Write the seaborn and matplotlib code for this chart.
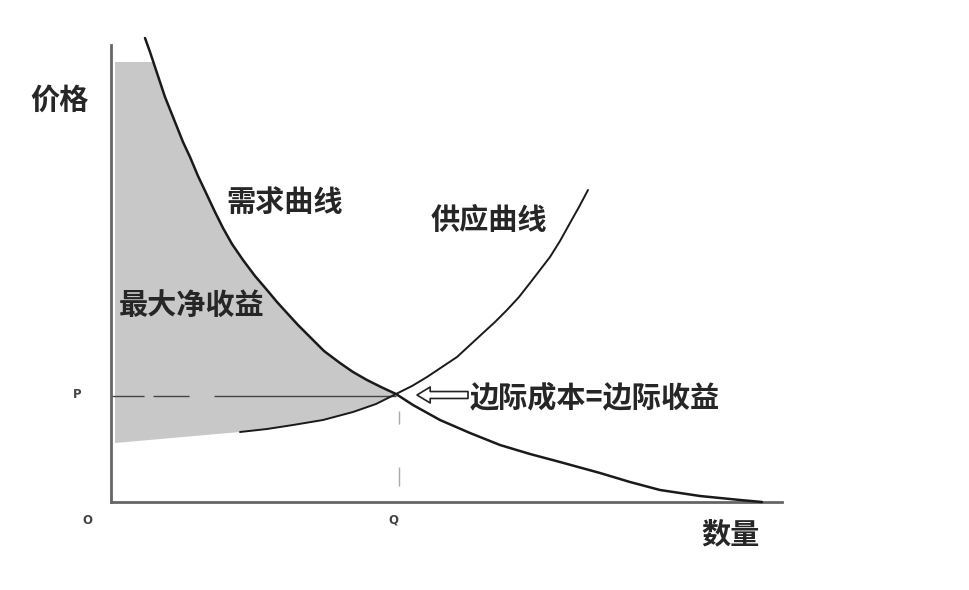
import numpy as np
import matplotlib
matplotlib.use("Agg")
import matplotlib.pyplot as plt
import seaborn as sns

# curve points (quantity, price), axis units
demand_q = [34, 39, 44, 49, 54, 60, 66, 72, 79, 87, 96, 104, 112, 121, 132, 144, 156,
            166, 176, 187, 199, 213, 229, 242, 256, 270, 285, 302, 329, 359, 389,
            419, 449, 489, 519, 549, 589, 629, 651]
demand_p = [464, 450, 435, 420, 405, 390, 375, 360, 345, 326, 307, 290, 274, 258, 242,
            226, 212, 200, 189, 177, 165, 151, 139, 130, 122, 115, 108, 97, 82,
            69, 57, 48, 40, 29, 20, 12, 6, 2, 0]

supply_q = [129, 156, 182, 212, 242, 265, 285, 301, 316, 331, 346, 359, 372, 384, 396,
            408, 419, 429, 439, 449, 459, 468, 477]
supply_p = [70, 73, 77, 82, 90, 98, 108, 116, 125, 135, 145, 157, 169, 180, 192,
            205, 219, 232, 245, 261, 279, 295, 312]

# equilibrium
Q = 285
P = 106

# shaded area limits
shade_top = 440
shade_left = 4
shade_left_low = 59

labels = {
    "price": "价格",
    "qty": "数量",
    "demand": "需求曲线",
    "supply": "供应曲线",
    "surplus": "最大净收益",
    "mc_mr": "边际成本=边际收益",
}

sns.set_style("white")
plt.rcParams['font.family'] = ['Noto Sans CJK SC', 'DejaVu Sans']

fig = plt.figure(figsize=(9.7, 5.9), dpi=100)
ax = fig.add_axes([111 / 970, 88 / 590, 671 / 970, 457 / 590])
ax.set_xlim(0, 671)
ax.set_ylim(0, 457)

# shaded net benefit region: under demand, above supply (and its extension)
top_idx = [i for i, p in enumerate(demand_p) if p <= shade_top and demand_q[i] <= Q]
poly_x = [shade_left, demand_q[top_idx[0]] - 1] + [demand_q[i] for i in top_idx]
poly_y = [shade_top, shade_top] + [demand_p[i] for i in top_idx]
sup_idx = [i for i, q in enumerate(supply_q) if q < Q][::-1]
poly_x += [supply_q[i] for i in sup_idx] + [shade_left]
poly_y += [supply_p[i] for i in sup_idx] + [shade_left_low]
ax.fill(poly_x, poly_y, color="#c8c8c8", lw=0, zorder=1)

# curves
sns.lineplot(x=demand_q, y=demand_p, sort=False, estimator=None, ax=ax,
             color="#1a1a1a", lw=1.8, clip_on=False, zorder=3)
sns.lineplot(x=supply_q, y=supply_p, sort=False, estimator=None, ax=ax,
             color="#1a1a1a", lw=1.4, zorder=3)

# P and Q guide lines
ax.plot([0, Q], [P, P], color="#444444", lw=1.0,
        dashes=(23.8, 6.5, 25.9, 18, 300, 10), dash_capstyle="butt", zorder=2)
ax.plot([Q + 3, Q + 3], [P, 0], color="#aaaaaa", lw=1,
        linestyle=(103.3, (9.4, 31, 13.7, 60)), zorder=2)

# axes look
sns.despine(ax=ax)
for side in ["left", "bottom"]:
    ax.spines[side].set_color("#666666")
    ax.spines[side].set_linewidth(2)
ax.set_xticks([])
ax.set_yticks([])

# text
cjk = dict(fontsize=21, fontweight="bold", color="#262626")
small = dict(fontsize=8.5, fontweight="bold", color="#444444", family="DejaVu Sans",
             ha="center", va="center")
ax.text(-52, 402, labels["price"], ha="center", va="center", clip_on=False, **cjk)
ax.text(619, -32, labels["qty"], ha="center", va="center", clip_on=False, **cjk)
ax.text(-24, -18, "O", **small)
ax.text(282, -18, "Q", **small)
ax.text(-34, 107, "P", **small)
ax.text(174, 300, labels["demand"], ha="center", va="center", **cjk)
ax.text(378, 282, labels["supply"], ha="center", va="center", **cjk)
ax.text(81, 197, labels["surplus"], ha="center", va="center", **cjk)
ax.text(359, 105, labels["mc_mr"], ha="left", va="center", **cjk)

ax.annotate("", xy=(306, 107), xytext=(357, 107),
            arrowprops=dict(arrowstyle="simple,head_length=0.95,head_width=1.15,tail_width=0.5",
                            fc="white", ec="#222222", lw=1.2, shrinkA=0, shrinkB=0))

fig.savefig("out.png", dpi=100)
